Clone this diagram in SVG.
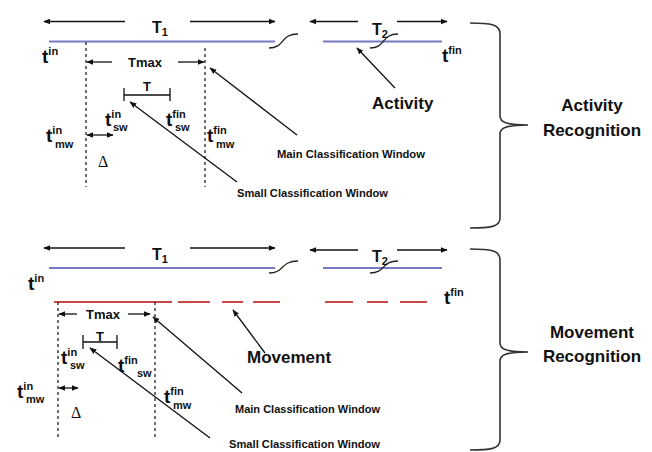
<svg xmlns="http://www.w3.org/2000/svg" width="652" height="452" viewBox="0 0 652 452">
<style>
text{font-family:"Liberation Sans",Arial,sans-serif;font-weight:bold;fill:#111}
.big{font-size:17px}
.t{font-size:19px}
.sup{font-size:11px}
.lab{font-size:13px}
.tt{font-size:16px}
.cw{font-size:10px}
.delta{font-family:"Liberation Serif","Times New Roman",serif;font-weight:normal;font-size:16px}
.ln{stroke:#111;stroke-width:1.3;fill:none}
.blue{stroke:#7878c4;stroke-width:2;fill:none}
.red{stroke:#c84848;stroke-width:2;fill:none}
.dash{stroke:#222;stroke-width:1.3;stroke-dasharray:3,3;fill:none}
.sq{stroke:#222;stroke-width:1.3;fill:none}
.br{stroke:#333;stroke-width:1.6;fill:none}
</style>
<defs>
<marker id="ah" viewBox="0 0 10 10" refX="9" refY="5" markerWidth="7" markerHeight="7" markerUnits="userSpaceOnUse" orient="auto-start-reverse">
<path d="M0,1 L10,5 L0,9 z" fill="#111"/>
</marker>
</defs>

<!-- ===== Top panel ===== -->
<g id="timeline-top">
<line class="blue" x1="49" y1="41.5" x2="275" y2="41.5"/>
<line class="blue" x1="323" y1="41.5" x2="442" y2="41.5"/>
<path class="sq" d="M269,48 C285,48 280,34 298,34"/>
<path class="sq" d="M370,48 C386,48 381,34 398,34"/>
<line class="dash" x1="86" y1="42" x2="86" y2="187"/>
<line class="dash" x1="205" y1="48" x2="205" y2="187"/>
<path class="ln" d="M124,88 V101 M124,95 H170 M170,88 V101"/>
</g>
<g id="labels-top">
<text class="tt" x="160" y="33" text-anchor="middle">T<tspan class="sup" dy="3">1</tspan></text>
<text class="tt" x="380" y="35" text-anchor="middle">T<tspan class="sup" dy="3">2</tspan></text>
<text class="t" x="42" y="63">t<tspan class="sup" dy="-8">in</tspan></text>
<text class="t" x="442" y="62">t<tspan class="sup" dy="-8">fin</tspan></text>
<text class="lab" x="145" y="67" text-anchor="middle">Tmax</text>
<text class="lab" x="147" y="91" text-anchor="middle">T</text>
<text class="t" x="105" y="126">t<tspan class="sup" dy="-8">in</tspan><tspan class="sup" x="113" dy="13">sw</tspan></text>
<text class="t" x="166" y="126">t<tspan class="sup" dy="-8">fin</tspan><tspan class="sup" x="175" dy="13">sw</tspan></text>
<text class="t" x="46" y="142">t<tspan class="sup" dy="-8">in</tspan><tspan class="sup" x="55" dy="14">mw</tspan></text>
<text class="t" x="207" y="142">t<tspan class="sup" dy="-8">fin</tspan><tspan class="sup" x="216" dy="14">mw</tspan></text>
<text class="delta" x="98" y="167">Δ</text>
<text class="big" x="372" y="109">Activity</text>
<text class="cw" x="277" y="158" textLength="148" lengthAdjust="spacingAndGlyphs">Main Classification Window</text>
<text class="cw" x="237" y="197" textLength="151" lengthAdjust="spacingAndGlyphs">Small Classification Window</text>
</g>
<g id="brace-top">
<path class="br" d="M470,23 C490,23 500,24 500,34 L500,116 C500,122 506,125 528,125 C506,125 500,128 500,134 L500,218 C500,227 490,228 470,228"/>
<text class="big" x="592" y="111" text-anchor="middle">Activity</text>
<text class="big" x="592" y="136" text-anchor="middle">Recognition</text>
</g>

<!-- ===== Bottom panel ===== -->
<g id="timeline-bottom">
<line class="blue" x1="49" y1="268" x2="275" y2="268"/>
<line class="blue" x1="323" y1="268" x2="442" y2="268"/>
<path class="sq" d="M269,273 C285,273 280,261 298,261"/>
<path class="sq" d="M370,273 C386,273 381,261 398,261"/>
<path class="red" d="M54,302 H172 M178,302 H210 M222,302 H243 M253,302 H280 M325,302 H353 M367,302 H388 M400,302 H427"/>
<line class="dash" x1="58" y1="302" x2="58" y2="440"/>
<line class="dash" x1="155" y1="302" x2="155" y2="440"/>
<path class="ln" d="M83,335 V349 M83,342 H117 M117,335 V349"/>
</g>
<g id="labels-bottom">
<text class="tt" x="160" y="260" text-anchor="middle">T<tspan class="sup" dy="3">1</tspan></text>
<text class="tt" x="380" y="262" text-anchor="middle">T<tspan class="sup" dy="3">2</tspan></text>
<text class="t" x="28" y="290">t<tspan class="sup" dy="-8">in</tspan></text>
<text class="t" x="444" y="304">t<tspan class="sup" dy="-8">fin</tspan></text>
<text class="lab" x="103" y="319" text-anchor="middle">Tmax</text>
<text class="lab" x="100" y="341" text-anchor="middle">T</text>
<text class="t" x="61" y="364">t<tspan class="sup" dy="-8">in</tspan><tspan class="sup" x="70" dy="13">sw</tspan></text>
<text class="t" x="118" y="372">t<tspan class="sup" dy="-8">fin</tspan><tspan class="sup" x="137" dy="13">sw</tspan></text>
<text class="t" x="17" y="398">t<tspan class="sup" dy="-8">in</tspan><tspan class="sup" x="26" dy="13">mw</tspan></text>
<text class="t" x="164" y="403">t<tspan class="sup" dy="-8">fin</tspan><tspan class="sup" x="173" dy="14">mw</tspan></text>
<text class="delta" x="71" y="418">Δ</text>
<text class="big" x="247" y="363">Movement</text>
<text class="cw" x="235" y="413" textLength="145" lengthAdjust="spacingAndGlyphs">Main Classification Window</text>
<text class="cw" x="229" y="448" textLength="151" lengthAdjust="spacingAndGlyphs">Small Classification Window</text>
</g>
<g id="brace-bottom">
<path class="br" d="M470,249 C490,249 500,250 500,260 L500,343 C500,349 506,352 528,352 C506,352 500,355 500,361 L500,440 C500,449 490,450 470,450"/>
<text class="big" x="592" y="338" text-anchor="middle">Movement</text>
<text class="big" x="592" y="362" text-anchor="middle">Recognition</text>
</g>

<!-- ===== Connectors ===== -->
<g id="connectors">
<line class="ln" x1="125" y1="21.5" x2="44" y2="21.5" marker-end="url(#ah)"/>
<line class="ln" x1="190" y1="21.5" x2="275" y2="21.5" marker-end="url(#ah)"/>
<line class="ln" x1="358" y1="21.5" x2="310" y2="21.5" marker-end="url(#ah)"/>
<line class="ln" x1="397" y1="21.5" x2="447" y2="21.5" marker-end="url(#ah)"/>
<line class="ln" x1="112" y1="62" x2="87" y2="62" marker-end="url(#ah)"/>
<line class="ln" x1="178" y1="62" x2="204" y2="62" marker-end="url(#ah)"/>
<line class="ln" x1="87" y1="135" x2="113" y2="135" marker-start="url(#ah)" marker-end="url(#ah)"/>
<line class="ln" x1="297" y1="135" x2="210" y2="68" marker-end="url(#ah)"/>
<line class="ln" x1="237" y1="182" x2="130" y2="102" marker-end="url(#ah)"/>
<line class="ln" x1="395" y1="88" x2="357" y2="48" marker-end="url(#ah)"/>

<line class="ln" x1="125" y1="248" x2="44" y2="248" marker-end="url(#ah)"/>
<line class="ln" x1="190" y1="248" x2="275" y2="248" marker-end="url(#ah)"/>
<line class="ln" x1="358" y1="250" x2="310" y2="250" marker-end="url(#ah)"/>
<line class="ln" x1="397" y1="250" x2="447" y2="250" marker-end="url(#ah)"/>
<line class="ln" x1="77" y1="314" x2="59" y2="314" marker-end="url(#ah)"/>
<line class="ln" x1="128" y1="314" x2="150" y2="314" marker-end="url(#ah)"/>
<line class="ln" x1="59" y1="388" x2="78" y2="388" marker-start="url(#ah)" marker-end="url(#ah)"/>
<line class="ln" x1="242" y1="393" x2="153" y2="317" marker-end="url(#ah)"/>
<line class="ln" x1="210" y1="438" x2="90" y2="348" marker-end="url(#ah)"/>
<line class="ln" x1="265" y1="353" x2="233" y2="310" marker-end="url(#ah)"/>
</g>
</svg>
